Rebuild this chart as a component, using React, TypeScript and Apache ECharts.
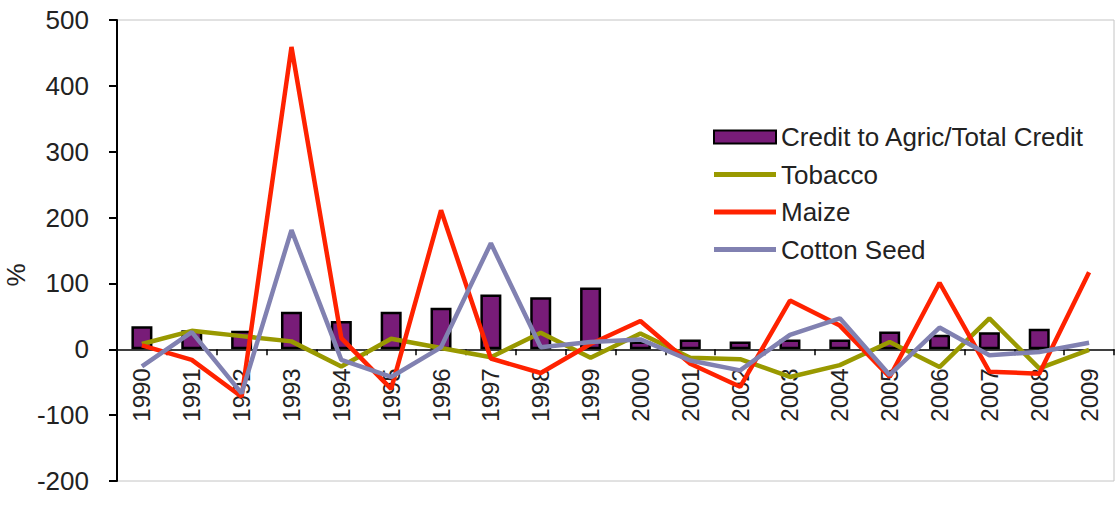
import React, { useEffect, useRef } from "react";
import * as echarts from "echarts";

const years = ["1990","1991","1992","1993","1994","1995","1996","1997","1998","1999","2000","2001","2002","2003","2004","2005","2006","2007","2008","2009"];
const creditAgric = [35, 29, 28, 57, 43, 57, 63, 83, 79, 94, 12, 15, 12, 15, 15, 27, 22, 26, 31, null];
const tobacco = [8, 28, 20, 12, -26, 16, 2, -12, 25, -13, 24, -13, -15, -42, -24, 11, -27, 47, -29, -1];
const maize = [6, -16, -72, 459, 17, -60, 211, -14, -36, 8, 43, -22, -57, 74, 36, -42, 101, -34, -37, 117];
const cottonSeed = [-26, 26, -67, 181, -16, -42, 3, 161, 3, 11, 15, -17, -32, 22, 47, -39, 33, -9, -4, 10];

const FONT = "Liberation Sans";
const TXT = "#222";
const FS = 26;

const GRID_TOP = 20;
const GRID_BOTTOM = 27;
const CHART_H = 508;
const Y_MIN = -200;
const Y_MAX = 500;

const lineIcon = "path://M0,0 L62,0 L62,5 L0,5 Z";

export default function App() {
  const ref = useRef<HTMLDivElement>(null);
  useEffect(() => {
    if (!ref.current) return;
    const chart = echarts.init(ref.current, null, { renderer: "svg" });
    const plotH = CHART_H - GRID_TOP - GRID_BOTTOM;
    const zeroFromBottom = (0 - Y_MIN) / (Y_MAX - Y_MIN) * plotH;
    chart.setOption({
      animation: false,
      backgroundColor: "#fff",
      textStyle: { fontFamily: FONT },
      grid: {
        left: 117, right: 4, top: GRID_TOP, bottom: GRID_BOTTOM,
        show: true, borderColor: "#c4c4c4", borderWidth: 1,
        containLabel: false, outerBoundsMode: "none",
      },
      legend: {
        orient: "vertical",
        left: 713,
        top: 124,
        padding: 0,
        itemWidth: 62,
        itemHeight: 13,
        itemGap: 11.5,
        textStyle: { fontSize: FS, color: TXT, fontFamily: FONT, lineHeight: 26 },
        data: [
          { name: "Credit to Agric/Total Credit", icon: "rect" },
          { name: "Tobacco", icon: lineIcon },
          { name: "Maize", icon: lineIcon },
          { name: "Cotton Seed", icon: lineIcon },
        ],
      },
      graphic: [
        {
          type: "text",
          x: 16,
          y: 275,
          rotation: Math.PI / 2,
          style: { text: "%", fontSize: FS, fontFamily: FONT, fill: TXT, textAlign: "center", textVerticalAlign: "middle" },
        },
      ],
      xAxis: {
        type: "category",
        data: years,
        boundaryGap: true,
        position: "bottom",
        offset: -zeroFromBottom,
        axisLine: { onZero: false, lineStyle: { color: "#000", width: 1.5 } },
        axisTick: { show: true, interval: 0, length: 6, lineStyle: { color: "#000", width: 1.5 } },
        axisLabel: { interval: 0, rotate: 90, margin: 19, fontSize: 24, color: TXT, fontFamily: FONT },
        splitLine: { show: false },
      },
      yAxis: {
        type: "value",
        min: Y_MIN,
        max: Y_MAX,
        interval: 100,
        axisLine: { show: true, lineStyle: { color: "#000", width: 2 } },
        axisTick: { show: true, length: 8, lineStyle: { color: "#000", width: 2 } },
        axisLabel: { margin: 28, fontSize: FS, color: TXT, fontFamily: FONT },
        splitLine: { show: false },
      },
      series: [
        {
          name: "Credit to Agric/Total Credit",
          type: "bar",
          data: creditAgric,
          barWidth: 21,
          itemStyle: { color: "#781c78", borderColor: "#000", borderWidth: 2.5 },
        },
        {
          name: "Tobacco",
          type: "line",
          data: tobacco,
          symbol: "none",
          lineStyle: { color: "#999900", width: 4.5 },
          itemStyle: { color: "#999900" },
        },
        {
          name: "Maize",
          type: "line",
          data: maize,
          symbol: "none",
          lineStyle: { color: "#ff2200", width: 4.5 },
          itemStyle: { color: "#ff2200" },
        },
        {
          name: "Cotton Seed",
          type: "line",
          data: cottonSeed,
          symbol: "none",
          lineStyle: { color: "#8181b1", width: 4.5 },
          itemStyle: { color: "#8181b1" },
        },
      ],
    });
    return () => chart.dispose();
  }, []);
  return <div ref={ref} style={{ position: "fixed", left: 0, top: 0, width: 1118, height: 508 }} />;
}
